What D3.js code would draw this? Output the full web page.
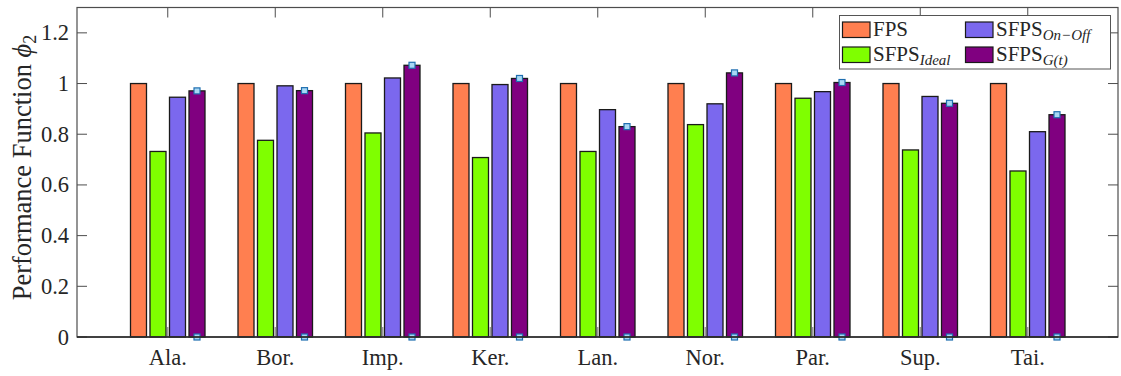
<!DOCTYPE html>
<html>
<head>
<meta charset="utf-8">
<script src="https://cdn.jsdelivr.net/npm/d3@7"></script>
<style>
  html, body { margin: 0; padding: 0; background: #fff; }
  svg { display: block; }
  text { font-family: "Liberation Serif", "DejaVu Serif", serif; fill: #262626; }
</style>
</head>
<body>
<svg id="chart" width="1121" height="376"></svg>
<script>
// Datasets (short names) and the four schemes compared
const categories = ["Ala.", "Bor.", "Imp.", "Ker.", "Lan.", "Nor.", "Par.", "Sup.", "Tai."];
const seriesKeys = ["FPS", "SFPS_Ideal", "SFPS_OnOff", "SFPS_Gt"];

const fps        = [1.000, 1.000, 1.000, 1.000, 1.000, 1.000, 1.000, 1.000, 1.000];
const sfpsIdeal  = [0.732, 0.776, 0.805, 0.708, 0.732, 0.838, 0.942, 0.738, 0.655];
const sfpsOnOff  = [0.946, 0.991, 1.022, 0.996, 0.897, 0.920, 0.968, 0.949, 0.810];
const sfpsGt     = [0.971, 0.972, 1.072, 1.020, 0.830, 1.042, 1.004, 0.922, 0.877];

const yTicks = [0, 0.2, 0.4, 0.6, 0.8, 1, 1.2];

const colors = {
  FPS: "#FF7F50",
  SFPS_Ideal: "#7FFF00",
  SFPS_OnOff: "#7B68EE",
  SFPS_Gt: "#800080"
};

const seriesValues = { FPS: fps, SFPS_Ideal: sfpsIdeal, SFPS_OnOff: sfpsOnOff, SFPS_Gt: sfpsGt };
const rows = categories.map((c, i) => ({
  cat: c,
  vals: seriesKeys.map(k => ({ key: k, value: seriesValues[k][i] }))
}));

const svg = d3.select("#chart");
const plot = { left: 77, right: 1118, top: 7.5, bottom: 337 };

const x0 = d3.scaleBand().domain(categories).range([114, 1081.5]).padding(0);
const x1 = d3.scaleBand().domain(seriesKeys).range([-37.25, 37.25]).paddingInner(0.18).paddingOuter(0);
const y = d3.scaleLinear().domain([0, 1.3]).range([plot.bottom, plot.top]);

const axisColor = "#4d4d4d";
const tickLen = 10;

// Inner ticks along the bottom and top (drawn beneath the bars)
const g = svg.append("g");
const xTickG = g.append("g");
categories.forEach(c => {
  const cx = x0(c) + x0.bandwidth() / 2;
  xTickG.append("line").attr("x1", cx).attr("x2", cx)
    .attr("y1", plot.bottom).attr("y2", plot.bottom - tickLen)
    .attr("stroke", "#8a8a8a").attr("stroke-width", 1.2);
  xTickG.append("line").attr("x1", cx).attr("x2", cx)
    .attr("y1", plot.top).attr("y2", plot.top + tickLen)
    .attr("stroke", axisColor).attr("stroke-width", 1);
});

// Bars
const groups = g.selectAll("g.grp").data(rows).join("g")
  .attr("class", "grp")
  .attr("transform", d => `translate(${x0(d.cat) + x0.bandwidth() / 2},0)`);

groups.selectAll("rect").data(d => d.vals).join("rect")
  .attr("x", d => x1(d.key))
  .attr("width", x1.bandwidth())
  .attr("y", d => y(d.value))
  .attr("height", d => y(0) - y(d.value))
  .attr("fill", d => colors[d.key])
  .attr("stroke", "#1a1a1a")
  .attr("stroke-width", 1.3);

// Data-tip markers on the G(t) bars (top and base)
groups.each(function (d) {
  const v = d.vals.find(e => e.key === "SFPS_Gt").value;
  const cx = x1("SFPS_Gt") + x1.bandwidth() / 2;
  [v, 0].forEach(val => {
    d3.select(this).append("rect")
      .attr("x", cx - 3).attr("y", y(val) - 3)
      .attr("width", 6).attr("height", 6)
      .attr("fill", "#a8d8f5").attr("stroke", "#1f6fb0").attr("stroke-width", 1.2);
  });
});

// Y axis ticks and labels
yTicks.forEach(t => {
  const yy = y(t);
  svg.append("line").attr("x1", plot.left).attr("x2", plot.left + tickLen)
    .attr("y1", yy).attr("y2", yy).attr("stroke", axisColor).attr("stroke-width", 1);
  svg.append("line").attr("x1", plot.right).attr("x2", plot.right - tickLen)
    .attr("y1", yy).attr("y2", yy).attr("stroke", axisColor).attr("stroke-width", 1);
  svg.append("text").attr("x", plot.left - 8).attr("y", yy + 7.5)
    .attr("text-anchor", "end").attr("font-size", 22.5)
    .text(d3.format("~g")(t));
});

// X labels
categories.forEach(c => {
  svg.append("text").attr("x", x0(c) + x0.bandwidth() / 2).attr("y", 365)
    .attr("text-anchor", "middle").attr("font-size", 22.5).text(c);
});

// Frame
svg.append("rect").attr("x", plot.left).attr("y", plot.top)
  .attr("width", plot.right - plot.left).attr("height", plot.bottom - plot.top)
  .attr("fill", "none").attr("stroke", axisColor).attr("stroke-width", 1.2);
svg.append("line").attr("x1", plot.left).attr("x2", plot.right)
  .attr("y1", plot.bottom).attr("y2", plot.bottom).attr("stroke", "#262626").attr("stroke-width", 1.4);

// Y axis title
const yt = svg.append("text")
  .attr("transform", `translate(31,167.5) rotate(-90)`)
  .attr("text-anchor", "middle").attr("font-size", 26.5);
yt.append("tspan").text("Performance Function ");
yt.append("tspan").attr("font-style", "italic").text("\u03D5");
yt.append("tspan").attr("font-size", 18).attr("dy", 5).text("2");

// Legend
const leg = svg.append("g");
leg.append("rect").attr("x", 839.5).attr("y", 15.5).attr("width", 271).attr("height", 53.5)
  .attr("fill", "#fff").attr("stroke", "#555").attr("stroke-width", 1);

const legendItems = [
  { key: "FPS", base: "FPS", sub: null, col: 0, row: 0 },
  { key: "SFPS_OnOff", base: "SFPS", sub: "On\u2212Off", col: 1, row: 0 },
  { key: "SFPS_Ideal", base: "SFPS", sub: "Ideal", col: 0, row: 1 },
  { key: "SFPS_Gt", base: "SFPS", sub: "G(t)", col: 1, row: 1 }
];
const colX = [842.5, 965.5];
const rowY = [22, 47];
legendItems.forEach(it => {
  const sx = colX[it.col], sy = rowY[it.row];
  leg.append("rect").attr("x", sx).attr("y", sy).attr("width", 27.5).attr("height", 15.5)
    .attr("fill", colors[it.key]).attr("stroke", "#1a1a1a").attr("stroke-width", 1.2);
  const t = leg.append("text").attr("x", sx + 30.5).attr("y", sy + 14).attr("font-size", 21);
  t.append("tspan").text(it.base);
  if (it.sub) {
    t.append("tspan").attr("font-style", "italic").attr("font-size", 15).attr("dy", 4).text(it.sub);
  }
});
</script>
</body>
</html>
